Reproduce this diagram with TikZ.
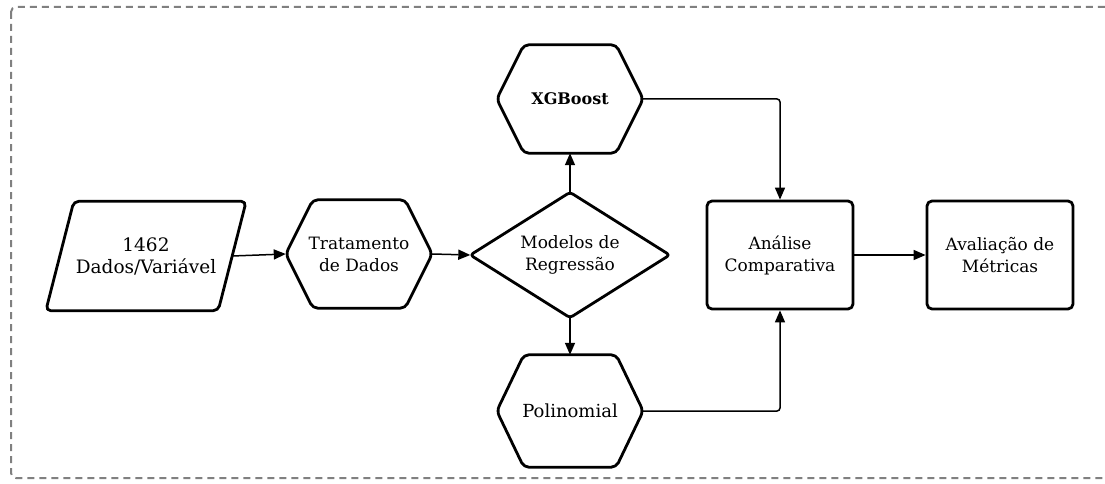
\documentclass[tikz,border=0pt]{standalone}
\usepackage{fontspec}
\setmainfont{DejaVu Serif}
\usetikzlibrary{arrows.meta}
\newcommand{\tx}[1]{\textbf{#1}}
\newcommand{\hexa}[1]{\draw[boxline] (#1.west) -- ([xshift=27]#1.north west) -- ([xshift=-27]#1.north east) -- (#1.east) -- ([xshift=-27]#1.south east) -- ([xshift=27]#1.south west) -- cycle;}
\tikzset{
	boxline/.style={line width=2.8pt, rounded corners=5pt, line join=round},
	txt/.style={align=center, inner sep=0pt, font=\fontsize{17}{22}\selectfont},
	hexnode/.style={txt, minimum width=146, minimum height=108},
	rectnode/.style={txt, draw, boxline, minimum width=146, minimum height=108},
	conn/.style={line width=1.5pt, rounded corners=3pt, -{Triangle[length=12pt,width=10pt]}},
}
\begin{document}
\begin{tikzpicture}[x=1pt,y=-1pt]
\useasboundingbox (0,0) rectangle (1105,484);
\draw[black!50, line width=2pt, dash pattern=on 7pt off 5pt, rounded corners=5pt] (11,7) rectangle (1125,478);
% caixas
\node[txt, minimum width=172, minimum height=109, font=\fontsize{18.5}{22}\selectfont] at (146,256) (dados) {1462\\Dados/Variável};
\draw[boxline] ([xshift=14]dados.north west) -- ([xshift=14]dados.north east) -- ([xshift=-14]dados.south east) -- ([xshift=-14]dados.south west) -- cycle;
\node[hexnode] at (359,254) (trat) {Tratamento\\de Dados};
\hexa{trat}
\node[txt, minimum width=199, minimum height=125] at (570,255) (reg) {Modelos de\\Regressão};
\draw[boxline, rounded corners=3pt] (reg.west) -- (reg.north) -- (reg.east) -- (reg.south) -- cycle;
\node[hexnode, font=\fontsize{16}{22}\selectfont] at (570,99) (xgb) {\tx{XGBoost}};
\hexa{xgb}
\node[hexnode, minimum height=112, font=\fontsize{18}{22}\selectfont] at (570,411) (poli) {Polinomial};
\hexa{poli}
\node[rectnode] at (780,255) (anal) {Análise\\Comparativa};
\node[rectnode] at (1000,255) (aval) {Avaliação de\\Métricas};
% ligacoes
\draw[conn] (dados.east) -- (trat.west);
\draw[conn] (trat.east) -- (reg.west);
\draw[conn] (reg.north) -- (xgb.south);
\draw[conn] (reg.south) -- (poli.north);
\draw[conn] (xgb.east) -| (anal.north);
\draw[conn] (poli.east) -| (anal.south);
\draw[conn] (anal.east) -- (aval.west);
\end{tikzpicture}
\end{document}
